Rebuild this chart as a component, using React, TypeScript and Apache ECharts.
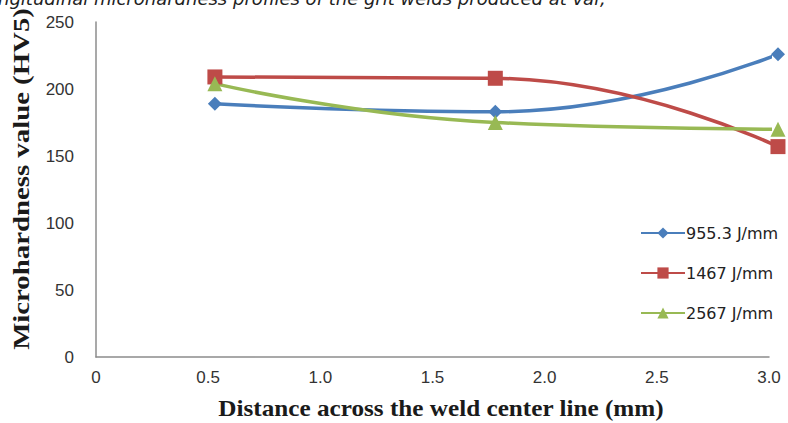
import React, { useEffect, useRef } from "react";
import * as echarts from "echarts";

const seriesNames = ["955.3 J/mm", "1467 J/mm", "2567 J/mm"];
const xPositions = [0.53, 1.78, 3.04];
const blueValues = [189, 183, 226];
const redValues = [209, 208, 157];
const greenValues = [204, 175, 170];
const yTicks = [0, 50, 100, 150, 200, 250];
const xTicks = [0, 0.5, 1.0, 1.5, 2.0, 2.5, 3.0];
const titleText = "ngitudinal microhardness profiles of the grit welds produced at var,";
const xTitle = "Distance across the weld center line (mm)";
const yTitle = "Microhardness value (HV5)";

const colors = ["#4A7EBB", "#BE4B48", "#98B954"];
const symbols = ["diamond", "rect", "triangle"];
const symbolSizes = [14, 15, 15];

export default function App() {
  const ref = useRef<HTMLDivElement>(null);
  useEffect(() => {
    if (!ref.current) return;
    const chart = echarts.init(ref.current, undefined, { renderer: "svg" });
    const valuesList = [blueValues, redValues, greenValues];
    chart.setOption({
      animation: false,
      backgroundColor: "#ffffff",
      grid: { left: 96, right: 19, top: 22, bottom: 66, outerBoundsMode: "none" },
      xAxis: {
        type: "value",
        min: xTicks[0],
        max: xTicks[xTicks.length - 1],
        interval: 0.5,
        axisLine: { show: true, onZero: false, lineStyle: { color: "#8c8c8c", width: 1.5 } },
        axisTick: { show: false },
        splitLine: { show: false },
        axisLabel: {
          color: "#333",
          fontSize: 17,
          fontFamily: "Liberation Sans, Arial, sans-serif",
          margin: 12,
          formatter: (v: number) => (v === 0 ? "0" : v.toFixed(1)),
        },
      },
      yAxis: {
        type: "value",
        min: yTicks[0],
        max: yTicks[yTicks.length - 1],
        interval: 50,
        axisLine: { show: true, lineStyle: { color: "#8c8c8c", width: 1.5 } },
        axisTick: { show: false },
        splitLine: { show: false },
        axisLabel: {
          color: "#333",
          fontSize: 17,
          fontFamily: "Liberation Sans, Arial, sans-serif",
          margin: 22,
        },
      },
      legend: {
        orient: "vertical",
        left: 635,
        top: 220,
        itemWidth: 44,
        itemHeight: 14,
        itemGap: 24,
        textStyle: { color: "#222", fontSize: 16, fontFamily: "DejaVu Sans, sans-serif", padding: [0, 0, 0, -4] },
        data: seriesNames,
      },
      graphic: [
        {
          type: "text",
          left: -2,
          top: -11,
          style: {
            text: titleText,
            font: "italic 18px 'DejaVu Sans', sans-serif",
            fill: "#222",
          },
        },
        {
          type: "text",
          x: 21,
          y: 179,
          rotation: Math.PI / 2,
          scaleX: 1.2,
          style: {
            text: yTitle,
            font: "bold 24px 'Liberation Serif', 'Times New Roman', serif",
            fill: "#1a1a1a",
            align: "center",
            verticalAlign: "middle",
          },
        },
        {
          type: "text",
          x: 441,
          y: 408,
          scaleX: 1.05,
          style: {
            text: xTitle,
            font: "bold 24px 'Liberation Serif', 'Times New Roman', serif",
            fill: "#1a1a1a",
            align: "center",
            verticalAlign: "middle",
          },
        },
      ],
      series: seriesNames.map((name, i) => ({
        name,
        type: "line",
        smooth: 0.5,
        clip: false,
        symbol: symbols[i],
        symbolSize: symbolSizes[i],
        color: colors[i],
        lineStyle: { width: 3.5, color: colors[i] },
        itemStyle: { color: colors[i] },
        data: xPositions.map((x, j) => [x, valuesList[i][j]]),
      })),
    });
    return () => chart.dispose();
  }, []);
  return (
    <div
      ref={ref}
      style={{ position: "fixed", left: 0, top: 0, width: 788, height: 423 }}
    />
  );
}
